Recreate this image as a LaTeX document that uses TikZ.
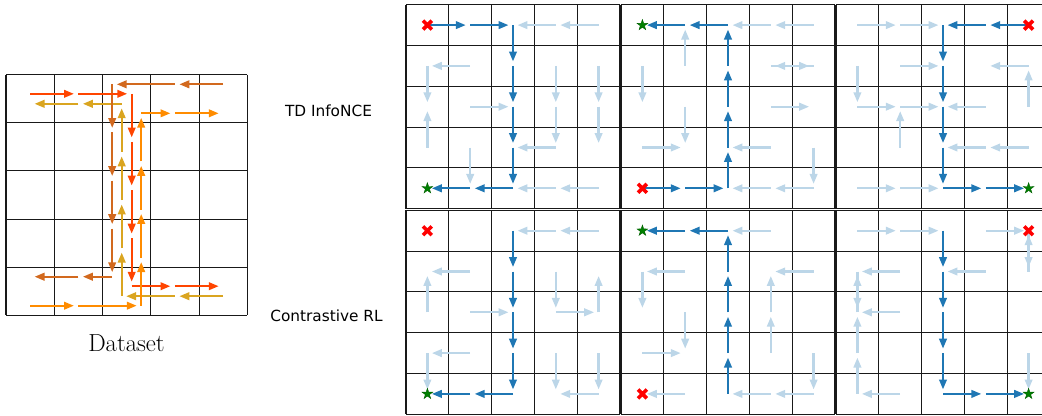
\documentclass[tikz,border=0pt]{standalone}
\usepackage{fontspec}
\newfontfamily\dejavu{DejaVu Sans}
\usetikzlibrary{arrows.meta,shapes.geometric}
\definecolor{tabblue}{HTML}{1F77B4}
\definecolor{lightblue}{RGB}{188,214,232}
\definecolor{tbrown}{HTML}{D2691E}
\definecolor{tred}{HTML}{FF4500}
\definecolor{tgold}{HTML}{DAA520}
\definecolor{torange}{HTML}{FF8C00}
\definecolor{mgreen}{HTML}{008000}
\definecolor{mgreendk}{HTML}{006000}
\definecolor{mred}{HTML}{FF0000}
\begin{document}
\begin{tikzpicture}[x=0.75pt,y=-0.75pt,
  gl/.style={line width=0.8pt, black!90},
  arw/.style={line width=1.75pt, -{Triangle[length=7.5pt,width=5.6pt]}, shorten >=3.3pt},
  dk/.style={arw, tabblue},
  lt/.style={arw, lightblue},
  mkx/.style={inner sep=0pt, minimum size=11pt,
    path picture={\draw[mred, line width=2.7pt]
      ([shift={(-3.3pt,-3.3pt)}]path picture bounding box.center) -- ([shift={(3.3pt,3.3pt)}]path picture bounding box.center)
      ([shift={(-3.3pt,3.3pt)}]path picture bounding box.center) -- ([shift={(3.3pt,-3.3pt)}]path picture bounding box.center);}},
  mks/.style={star, star points=5, star point ratio=2.6, minimum size=8.5pt, inner sep=0pt,
    fill=mgreen, draw=mgreendk, line width=0.3pt},
  lbl/.style={font=\dejavu\fontsize{11.5}{14}\selectfont, anchor=base, inner sep=0pt},
  dslbl/.style={font=\fontsize{18.5}{21}\selectfont, anchor=base, inner sep=0pt}
]
\useasboundingbox (0,0) rectangle (1042,415);
\clip (0,0) rectangle (1042,415);

% ---------------- Dataset grid ----------------
\foreach \i in {0,...,5} {
  \draw[gl] ({6+48.26*\i},74.7) -- ({6+48.26*\i},315.3);
  \draw[gl] (6,{74.7+48.12*\i}) -- (247.3,{74.7+48.12*\i});
}
% trajectory points
% brown
\coordinate (b0) at (223.2,84.3);  \coordinate (b1) at (174.9,84.3);  \coordinate (b2) at (112.2,84.3);
\coordinate (b3) at (112.2,132.4); \coordinate (b4) at (112.2,180.5); \coordinate (b5) at (112.2,228.6);
\coordinate (b6) at (112.2,276.7); \coordinate (b7) at (78.4,276.7);  \coordinate (b8) at (30.1,276.7);
% red
\coordinate (r0) at (30.1,93.8);   \coordinate (r1) at (78.4,93.8);   \coordinate (r2) at (131.7,93.8);
\coordinate (r3) at (131.7,141.9); \coordinate (r4) at (131.7,190);   \coordinate (r5) at (131.7,238.1);
\coordinate (r6) at (131.7,286.2); \coordinate (r7) at (174.9,286.2); \coordinate (r8) at (223.2,286.2);
% gold
\coordinate (g0) at (223.2,296.2); \coordinate (g1) at (174.9,296.2); \coordinate (g2) at (121.7,296.2);
\coordinate (g3) at (121.7,248.1); \coordinate (g4) at (121.7,200);   \coordinate (g5) at (121.7,151.9);
\coordinate (g6) at (121.7,103.8); \coordinate (g7) at (78.4,103.8);  \coordinate (g8) at (30.1,103.8);
% orange
\coordinate (o0) at (30.1,305.7);  \coordinate (o1) at (78.4,305.7);  \coordinate (o2) at (141.2,305.7);
\coordinate (o3) at (141.2,257.6); \coordinate (o4) at (141.2,209.5); \coordinate (o5) at (141.2,161.4);
\coordinate (o6) at (141.2,113.3); \coordinate (o7) at (174.9,113.3); \coordinate (o8) at (223.2,113.3);

\foreach \t/\col in {g/tgold, b/tbrown, r/tred, o/torange} {
  \foreach \i [evaluate=\i as \j using int(\i+1)] in {0,...,7}
    \draw[arw, \col] (\t\i) -- (\t\j);
}
\node[dslbl] (dslab) at (126.5,351) {Dataset};

% ---------------- Panels ----------------
\foreach \p/\ox/\oy in {1/406/4.7, 2/621/4.7, 3/836/4.7, 4/406/210.3, 5/621/210.3, 6/836/210.3} {
  \foreach \i in {0,...,5} {
    \draw[gl] ({\ox+42.8*\i},\oy) -- ({\ox+42.8*\i},{\oy+204});
    \draw[gl] (\ox,{\oy+40.8*\i}) -- ({\ox+214},{\oy+40.8*\i});
  }
  \foreach \c in {0,...,4}
    \foreach \r in {0,...,4}
      \coordinate (p\p-\c-\r) at ({\ox+42.8*(\c+0.5)},{\oy+40.8*(\r+0.5)});
}

% Panel 1
\foreach \a/\b/\c/\d in {4/0/3/0, 3/0/2/0, 1/1/0/1, 0/1/0/2, 0/3/0/2, 1/2/2/2, 3/1/3/2, 3/2/3/3, 4/1/4/2, 4/2/4/3, 3/3/2/3, 1/3/1/4, 4/4/3/4, 3/4/2/4}
  \draw[lt] (p1-\a-\b) -- (p1-\c-\d);
\foreach \a/\b/\c/\d in {0/0/1/0, 1/0/2/0, 2/0/2/1, 2/1/2/2, 2/2/2/3, 2/3/2/4, 2/4/1/4, 1/4/0/4}
  \draw[dk] (p1-\a-\b) -- (p1-\c-\d);
\node[mkx] (x1) at (p1-0-0) {};
\node[mks] (s1) at (p1-0-4) {};

% Panel 2
\foreach \a/\b/\c/\d in {4/0/3/0, 3/0/2/0, 1/1/1/0, 0/1/0/2, 1/2/1/3, 0/3/1/3, 3/1/4/1, 4/1/3/1, 3/2/4/2, 3/3/2/3, 4/3/4/4, 4/4/3/4, 3/4/2/4}
  \draw[lt] (p2-\a-\b) -- (p2-\c-\d);
\foreach \a/\b/\c/\d in {0/4/1/4, 1/4/2/4, 2/4/2/3, 2/3/2/2, 2/2/2/1, 2/1/2/0, 2/0/1/0, 1/0/0/0}
  \draw[dk] (p2-\a-\b) -- (p2-\c-\d);
\node[mkx] (x2) at (p2-0-4) {};
\node[mks] (s2) at (p2-0-0) {};

% Panel 3
\foreach \a/\b/\c/\d in {0/0/1/0, 1/0/2/0, 1/1/2/1, 4/1/3/1, 0/1/0/2, 4/2/4/1, 0/2/1/2, 1/2/2/2, 3/2/2/2, 1/3/1/2, 4/3/3/3, 3/3/2/3, 0/4/1/4, 1/4/2/4}
  \draw[lt] (p3-\a-\b) -- (p3-\c-\d);
\foreach \a/\b/\c/\d in {4/0/3/0, 3/0/2/0, 2/0/2/1, 2/1/2/2, 2/2/2/3, 2/3/2/4, 2/4/3/4, 3/4/4/4}
  \draw[dk] (p3-\a-\b) -- (p3-\c-\d);
\node[mkx] (x3) at (p3-4-0) {};
\node[mks] (s3) at (p3-4-4) {};

% Panel 4
\foreach \a/\b/\c/\d in {4/0/3/0, 3/0/2/0, 1/1/0/1, 0/2/0/1, 1/2/2/2, 3/1/3/2, 3/2/4/2, 4/2/4/1, 1/3/0/3, 0/3/0/4, 3/3/3/4, 4/3/4/4, 4/4/3/4}
  \draw[lt] (p4-\a-\b) -- (p4-\c-\d);
\foreach \a/\b/\c/\d in {2/0/2/1, 2/1/2/2, 2/2/2/3, 2/3/2/4, 2/4/1/4, 1/4/0/4}
  \draw[dk] (p4-\a-\b) -- (p4-\c-\d);
\node[mkx] (x4) at (p4-0-0) {};
\node[mks] (s4) at (p4-0-4) {};

% Panel 5
\foreach \a/\b/\c/\d in {3/0/2/0, 1/1/0/1, 0/1/0/2, 1/2/1/3, 0/3/1/3, 1/4/0/4, 4/1/3/1, 3/2/3/1, 3/3/3/2, 4/3/4/4, 4/4/3/4, 3/4/2/4}
  \draw[lt] (p5-\a-\b) -- (p5-\c-\d);
\foreach \a/\b/\c/\d in {2/4/2/3, 2/3/2/2, 2/2/2/1, 2/1/2/0, 2/0/1/0, 1/0/0/0}
  \draw[dk] (p5-\a-\b) -- (p5-\c-\d);
\node[mkx] (x5) at (p5-0-4) {};
\node[mks] (s5) at (p5-0-0) {};

% Panel 6
\foreach \a/\b/\c/\d in {0/0/1/0, 1/0/2/0, 3/0/4/0, 4/0/4/1, 4/1/4/0, 1/1/0/1, 3/1/2/1, 0/1/0/2, 0/2/0/1, 1/2/0/2, 0/3/0/2, 0/4/0/3, 1/4/0/4, 4/3/4/4}
  \draw[lt] (p6-\a-\b) -- (p6-\c-\d);
\foreach \a/\b/\c/\d in {2/0/2/1, 2/1/2/2, 2/2/2/3, 2/3/2/4, 2/4/3/4, 3/4/4/4}
  \draw[dk] (p6-\a-\b) -- (p6-\c-\d);
\node[mkx] (x6) at (p6-4-0) {};
\node[mks] (s6) at (p6-4-4) {};

% Row labels
\node[lbl] (tdlab) at (328.5,116) {TD InfoNCE};
\node[lbl] (crlab) at (326.5,321) {Contrastive RL};
\end{tikzpicture}
\end{document}
